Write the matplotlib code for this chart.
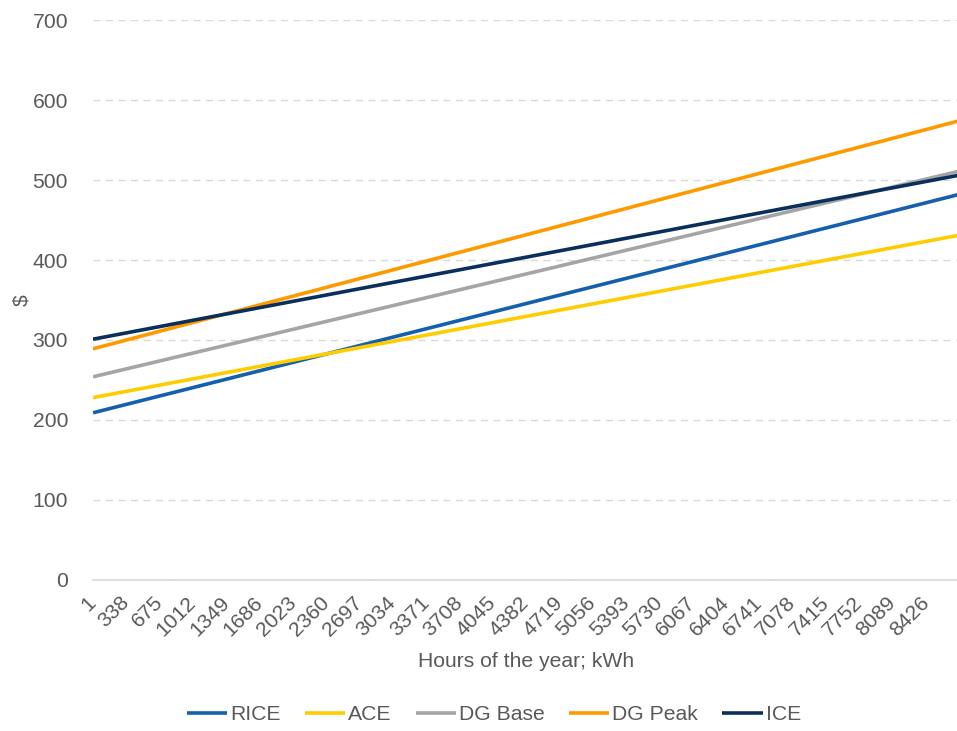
import matplotlib.pyplot as plt
import numpy as np

plt.rcParams["font.family"] = ["Liberation Sans", "DejaVu Sans"]

# endpoints of each (straight) cost line, hour 1 and hour 8760
hours = [1, 8760]
rice = [209, 482]
ace = [228, 431]
dg_base = [254, 511]
dg_peak = [289, 574]
ice = [301, 506]

series = ["RICE", "ACE", "DG Base", "DG Peak", "ICE"]
values = [rice, ace, dg_base, dg_peak, ice]
colors = ["#1360AE", "#FFCC00", "#A5A5A5", "#FF9900", "#0A2F5C"]

tick_hours = list(range(1, 8760, 337))
grey = "#595959"
fs = 15.2

fig = plt.figure(figsize=(9.57, 7.31), dpi=100)
ax = fig.add_axes([0.0972, 0.2066, 0.905, 0.766])

for name, v, c in zip(series, values, colors):
    ax.plot(hours, v, color=c, lw=2.6, label=name, solid_capstyle="butt")

ax.set_xlim(1, 8760)
ax.set_ylim(0, 700)
ax.set_yticks(range(0, 701, 100))
ax.set_xticks(tick_hours)
ax.set_xticklabels([str(h) for h in tick_hours], rotation=45, ha="right",
                   va="center", rotation_mode="anchor")
ax.tick_params(axis="both", length=0, labelsize=fs, colors=grey)
ax.tick_params(axis="x", pad=14)
ax.tick_params(axis="y", pad=18)

ax.yaxis.grid(True, color="#D9D9D9", linestyle=(0, (5, 4)), lw=1)
ax.set_axisbelow(True)
for s in ["top", "right", "left"]:
    ax.spines[s].set_visible(False)
ax.spines["bottom"].set_color("#D9D9D9")
ax.spines["bottom"].set_linewidth(1.2)

ax.set_xlabel("Hours of the year; kWh", fontsize=fs, color=grey, labelpad=9)
ax.set_ylabel("$", fontsize=fs, color=grey, labelpad=1)

fig.legend(loc="center", bbox_to_anchor=(0.516, 0.022), ncol=5, frameon=False,
           fontsize=fs, labelcolor=grey, handlelength=1.9, handletextpad=0.15,
           columnspacing=1.15)

fig.savefig("out.png", dpi=100)
